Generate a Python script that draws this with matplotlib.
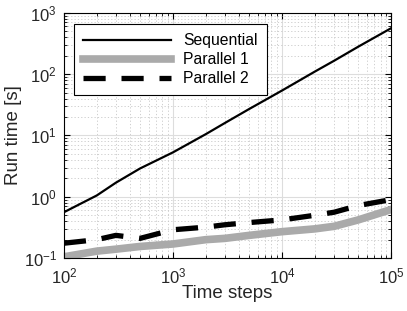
import matplotlib.pyplot as plt
import numpy as np

plt.rcParams['font.family'] = ['Liberation Sans', 'DejaVu Sans']

time_steps = [100, 200, 300, 500, 1000, 2000, 3000, 5000, 1e4, 2e4, 3e4, 5e4, 1e5]
sequential = [0.56, 1.05, 1.7, 2.9, 5.3, 10.5, 16, 27, 54, 110, 165, 280, 560]
parallel1 = [0.105, 0.13, 0.14, 0.155, 0.17, 0.2, 0.21, 0.235, 0.27, 0.3, 0.33, 0.42, 0.62]
parallel2 = [0.175, 0.2, 0.235, 0.21, 0.29, 0.32, 0.35, 0.38, 0.42, 0.5, 0.56, 0.72, 0.9]

fig = plt.figure(figsize=(4.07, 3.11), dpi=100)
ax = fig.add_axes([0.157, 0.170, 0.804, 0.789])

ax.plot(time_steps, sequential, color='black', lw=1.6, label='Sequential')
ax.plot(time_steps, parallel1, color='#aaaaaa', lw=5.5, label='Parallel 1')
ax.plot(time_steps, parallel2, color='black', lw=3.8, dashes=(4.2, 3), label='Parallel 2')

ax.set_xscale('log')
ax.set_yscale('log')
ax.set_xlim(1e2, 1e5)
ax.set_ylim(1e-1, 1e3)

# matlab-ish grid
ax.grid(True, which='major', color='#dddddd', lw=0.8, ls='-')
ax.grid(True, which='minor', color='#c8c8c8', lw=0.6, ls=(0, (1.5, 2.5)))
ax.set_axisbelow(True)

ax.tick_params(which='both', direction='in', top=True, right=True, labelsize=12,
               color='black', labelcolor='#262626')
ax.tick_params(which='major', length=4, width=0.8)
ax.tick_params(which='minor', length=2, width=0.6)
ax.tick_params(axis='x', which='major', pad=6)
ax.tick_params(axis='y', which='major', pad=5)
for s in ax.spines.values():
    s.set_linewidth(0.8)

ax.set_xlabel('Time steps', fontsize=13.5, labelpad=-1, color='#262626')
ax.set_ylabel('Run time [s]', fontsize=13.5, labelpad=1, color='#262626')

leg = ax.legend(loc='upper left', bbox_to_anchor=(0.03, 0.955), borderaxespad=0,
                fontsize=11.3, frameon=True, fancybox=False, handlelength=5.6,
                borderpad=0.6, labelspacing=0.25, handletextpad=0.75)
leg.get_frame().set_edgecolor('black')
leg.get_frame().set_linewidth(0.8)
leg.get_frame().set_alpha(1)

plt.savefig('out.png', dpi=100)
plt.close()
